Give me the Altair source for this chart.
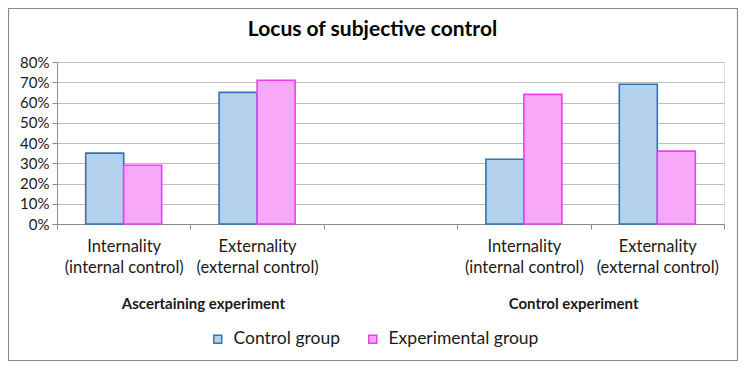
import altair as alt
import pandas as pd

# ---- data ----
title_text = "Locus of subjective control"
slot_ids = ["a_int", "a_ext", "gap", "c_int", "c_ext"]
slot_labels = [
    ["Internality", "(internal control)"],
    ["Externality", "(external control)"],
    [""],
    ["Internality", "(internal control)"],
    ["Externality", "(external control)"],
]
groups = ["Control group", "Experimental group"]
control_values = [0.35, 0.65, None, 0.32, 0.69]
experimental_values = [0.29, 0.71, None, 0.64, 0.36]
experiments = ["Ascertaining experiment", "Control experiment"]
experiment_anchor = ["a_int", "c_int"]
experiment_dx = [13, -17]

fill_colors = ["#B3D0EC", "#F8A8F8"]
stroke_colors = ["#2E75B6", "#F23CF2"]

rows = []
for sid, cv, ev in zip(slot_ids, control_values, experimental_values):
    if cv is not None:
        rows.append({"slot": sid, "group": groups[0], "value": cv})
    if ev is not None:
        rows.append({"slot": sid, "group": groups[1], "value": ev})
df = pd.DataFrame(rows)

# label expression built from label arrays
def js_arr(lst):
    return "[" + ",".join("'" + s + "'" for s in lst) + "]"

label_expr = "''"
for sid, lab in reversed(list(zip(slot_ids, slot_labels))):
    label_expr = f"datum.value == '{sid}' ? {js_arr(lab)} : ({label_expr})"

FONT = "Lato"
W, H = 667, 162
PAD_L, PAD_T, PAD_R, PAD_B = 49, 54, 14, 138

x_scale = alt.Scale(domain=slot_ids, paddingInner=0, paddingOuter=0)

legend_cfg = dict(
    title=None,
    orient="none",
    legendX=152,
    legendY=268,
    direction="horizontal",
    symbolType="square",
    symbolSize=64,
    symbolStrokeWidth=1.5,
    labelFont=FONT,
    labelFontSize=17.5,
    labelColor="#1a1a1a",
    labelOffset=7,
    columnPadding=24,
)

bars = alt.Chart(df).mark_bar(strokeWidth=1.6).encode(
    x=alt.X(
        "slot:N",
        scale=x_scale,
        sort=slot_ids,
        axis=alt.Axis(
            title=None,
            labelExpr=label_expr,
            labelAngle=0,
            tickBand="extent",
            tickSize=5,
            tickColor="#8C8C8C",
            domainColor="#8C8C8C",
            labelFont=FONT,
            labelFontSize=16.5,
            labelColor="#1a1a1a",
            labelLineHeight=21,
            labelPadding=9,
            grid=False,
        ),
    ),
    xOffset=alt.XOffset(
        "group:N",
        scale=alt.Scale(domain=groups, paddingInner=0, paddingOuter=0.755),
    ),
    y=alt.Y(
        "value:Q",
        scale=alt.Scale(domain=[0, 0.8], nice=False),
        axis=alt.Axis(
            title=None,
            values=[0, 0.1, 0.2, 0.3, 0.4, 0.5, 0.6, 0.7, 0.8],
            format=".0%",
            grid=True,
            gridColor="#BFBFBF",
            domainColor="#8C8C8C",
            tickColor="#8C8C8C",
            tickSize=5,
            labelFont=FONT,
            labelFontSize=15,
            labelColor="#1a1a1a",
            labelPadding=3,
        ),
    ),
    fill=alt.Fill(
        "group:N",
        scale=alt.Scale(domain=groups, range=fill_colors),
        legend=alt.Legend(**legend_cfg),
    ),
    stroke=alt.Stroke(
        "group:N",
        scale=alt.Scale(domain=groups, range=stroke_colors),
        legend=alt.Legend(**legend_cfg),
    ),
)

group_layers = []
for name, anchor, dx in zip(experiments, experiment_anchor, experiment_dx):
    gdf = pd.DataFrame({"slot": [anchor], "label": [name]})
    group_layers.append(
        alt.Chart(gdf)
        .mark_text(font=FONT, fontSize=15, fontWeight="bold", color="#1a1a1a", dx=dx, baseline="middle")
        .encode(
            x=alt.X("slot:N", scale=x_scale, sort=slot_ids, bandPosition=1),
            y=alt.value(H + 80),
            text="label:N",
        )
    )

title_layer = alt.Chart(pd.DataFrame({"t": [title_text]})).mark_text(
    font=FONT, fontSize=21, fontWeight="bold", color="#000000", baseline="middle"
).encode(
    x=alt.value(W / 2 - 18),
    y=alt.value(-32),
    text="t:N",
)

border = alt.Chart(pd.DataFrame({"k": [0]})).mark_rect(
    fill=None, stroke="#8A8A8A", strokeWidth=1.2
).encode(
    x=alt.value(-PAD_L + 0.5),
    x2=alt.value(W + PAD_R - 0.5),
    y=alt.value(-PAD_T + 0.5),
    y2=alt.value(H + PAD_B - 1.5),
)

chart = (
    alt.layer(border, title_layer, bars, *group_layers)
    .properties(
        width=W,
        height=H,
        padding={"left": PAD_L, "top": PAD_T, "right": PAD_R, "bottom": PAD_B},
        autosize=alt.AutoSizeParams(type="none"),
    )
    .configure_view(stroke=None)
    .configure(font=FONT)
)

chart.save("out.html", embed_options={"renderer": "svg", "actions": False})
